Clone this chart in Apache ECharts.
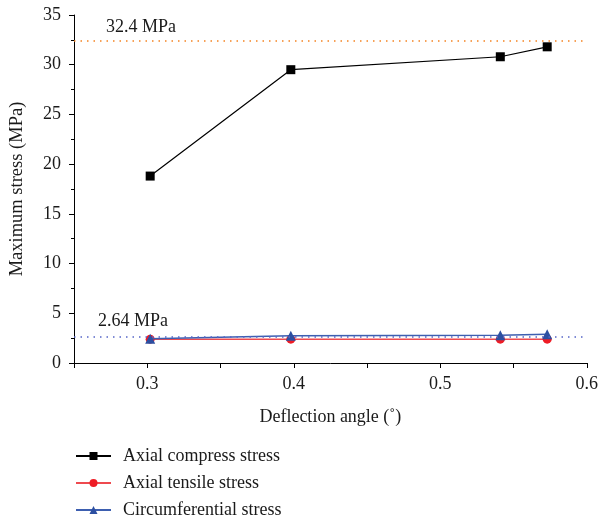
<!DOCTYPE html>
<html>
<head>
<meta charset="utf-8">
<script src="https://cdn.jsdelivr.net/npm/echarts@6/dist/echarts.min.js"></script>
<style>
  html, body { margin: 0; padding: 0; background: #fff; }
  #chart { width: 601px; height: 520px; }
</style>
</head>
<body>
<div id="chart"></div>
<script>
// deflection angle (deg) for each case
const angles = [0.302, 0.398, 0.541, 0.573]
const compressStress = [18.8, 29.5, 30.8, 31.8]
const tensileStress = [2.4, 2.4, 2.4, 2.4]
const circumStress = [2.45, 2.75, 2.8, 2.9]
const compressLimit = 32.4
const tensileLimit = 2.64
const seriesNames = ['Axial compress stress', 'Axial tensile stress', 'Circumferential stress']

const font = '"Liberation Serif", "DejaVu Serif", serif'

function pairs(xs, ys) {
    return xs.map((x, i) => [x, ys[i]])
}

const chart = echarts.init(document.getElementById('chart'), null, { renderer: 'canvas' })

const option = {
    animation: false,
    textStyle: { fontFamily: font, color: '#1a1a1a' },
    grid: { left: 73, right: 14, top: 15, bottom: 157, containLabel: false },
    legend: {
        orient: 'vertical',
        left: 70,
        top: 442,
        height: 120,
        itemWidth: 35,
        itemHeight: 10,
        itemGap: 9,
        textStyle: { fontFamily: font, fontSize: 18, color: '#1a1a1a', padding: [0, 0, 0, 7] },
        data: seriesNames
    },
    xAxis: {
        type: 'value',
        min: 0.25,
        max: 0.6,
        interval: 0.05,
        name: 'Deflection angle (˚)',
        nameLocation: 'middle',
        nameGap: 45,
        nameTextStyle: { fontFamily: font, fontSize: 18, color: '#1a1a1a' },
        axisLine: { show: true, lineStyle: { color: '#000', width: 1 } },
        axisTick: { show: true, inside: false, length: 5, lineStyle: { color: '#000' } },
        splitLine: { show: false },
        axisLabel: {
            fontFamily: font, fontSize: 18, color: '#1a1a1a', margin: 12,
            formatter: v => {
                const k = Math.round(v * 100)
                return (k % 10 === 0) ? (k / 100).toFixed(1) : ''
            }
        }
    },
    yAxis: {
        type: 'value',
        min: 0,
        max: 35,
        interval: 5,
        name: 'Maximum stress (MPa)',
        nameLocation: 'middle',
        nameGap: 47,
        nameTextStyle: { fontFamily: font, fontSize: 18.5, color: '#1a1a1a' },
        axisLine: { show: true, lineStyle: { color: '#000', width: 1 } },
        axisTick: { show: true, inside: false, length: 5, lineStyle: { color: '#000' } },
        minorTick: { show: true, splitNumber: 2, length: 3, lineStyle: { color: '#000' } },
        splitLine: { show: false },
        axisLabel: { fontFamily: font, fontSize: 18, color: '#1a1a1a', margin: 13 }
    },
    series: [
        {
            name: seriesNames[0],
            type: 'line',
            data: pairs(angles, compressStress),
            symbol: 'rect',
            symbolSize: 9,
            itemStyle: { color: '#000' },
            lineStyle: { color: '#000', width: 1.2 },
            z: 5,
            markLine: {
                silent: true,
                symbol: 'none',
                lineStyle: { color: '#f58220', type: [1.5, 5], width: 1.5 },
                label: {
                    show: true,
                    position: 'insideStartTop',
                    formatter: '32.4 MPa',
                    fontFamily: font, fontSize: 18, color: '#1a1a1a',
                    distance: [32, 5]
                },
                data: [{ yAxis: compressLimit }]
            }
        },
        {
            name: seriesNames[1],
            type: 'line',
            data: pairs(angles, tensileStress),
            symbol: 'circle',
            symbolSize: 9,
            itemStyle: { color: '#ee1c25' },
            lineStyle: { color: '#ee4a4f', width: 1.5 },
            z: 3
        },
        {
            name: seriesNames[2],
            type: 'line',
            data: pairs(angles, circumStress),
            symbol: 'triangle',
            symbolSize: 10,
            itemStyle: { color: '#2c4fa1' },
            lineStyle: { color: '#3d5fb0', width: 1.5 },
            z: 4,
            markLine: {
                silent: true,
                symbol: 'none',
                lineStyle: { color: '#5566c8', type: [1.5, 5], width: 1.5 },
                label: {
                    show: true,
                    position: 'insideStartTop',
                    formatter: '2.64 MPa',
                    fontFamily: font, fontSize: 18, color: '#1a1a1a',
                    distance: [24, 6]
                },
                data: [{ yAxis: tensileLimit }]
            }
        }
    ]
}

chart.setOption(option)
</script>
</body>
</html>
